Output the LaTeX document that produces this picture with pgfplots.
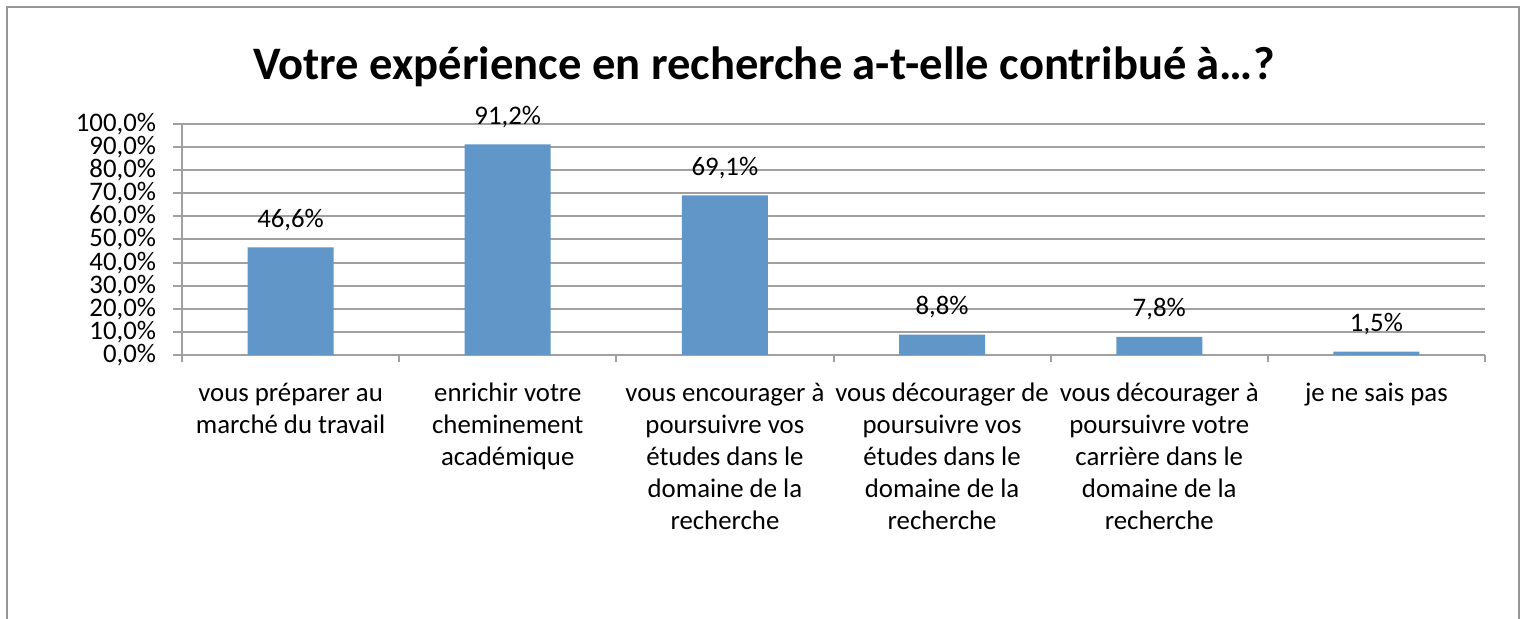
\documentclass[border=0pt]{standalone}
\usepackage{pgfplots}
\pgfplotsset{compat=1.18}
\usepackage{fontspec}
\setmainfont{Carlito}
\definecolor{barblue}{RGB}{97,150,201}
\definecolor{gridgray}{RGB}{160,160,160}
\definecolor{framegray}{RGB}{150,150,150}
\begin{document}
\begin{tikzpicture}
\useasboundingbox (-91pt,-132pt) rectangle (673pt,177.5pt);
\draw[framegray, line width=1.2pt] (-87.5pt,-140pt) -- (-87.5pt,174pt) -- (668.5pt,174pt) -- (668.5pt,-140pt);
\begin{axis}[
  at={(0,0)}, anchor=south west,
  scale only axis, width=651.5pt, height=115.5pt,
  xmin=-0.5, xmax=5.5, ymin=0, ymax=100,
  axis x line*=bottom, axis y line*=left,
  axis line style={-, gridgray, line width=1pt},
  ytick={0,10,...,100},
  ymajorgrids, grid style={gridgray, line width=1pt},
  tick style={gridgray, line width=1pt},
  tick align=outside,
  ytick style={/pgfplots/major tick length=4.5pt},
  xtick={0,...,5},
  xtick style={/pgfplots/major tick length=0pt},
  minor xtick={-0.5,0.5,...,5.5},
  minor tick length=3.5pt,
  /pgf/number format/assume math mode=true,
  yticklabel={\pgfmathprintnumber[fixed,fixed zerofill,precision=1,use comma]{\tick}\%},
  yticklabel style={font=\fontsize{13.4pt}{16pt}\selectfont, anchor=east, inner sep=0pt, xshift=-8.5pt},
  xticklabel style={font=\fontsize{13.4pt}{16pt}\selectfont, anchor=north, inner sep=0pt, align=center, yshift=-7.8pt},
  xticklabels={{\strut vous préparer au\\marché du travail},
               {\strut enrichir votre\\cheminement\\académique},
               {\strut vous encourager à\\poursuivre vos\\études dans le\\domaine de la\\recherche},
               {\strut vous décourager de\\poursuivre vos\\études dans le\\domaine de la\\recherche},
               {\strut vous décourager à\\poursuivre votre\\carrière dans le\\domaine de la\\recherche},
               {\strut je ne sais pas}},
  ybar, bar width=43pt,
  nodes near coords={\pgfmathprintnumber[fixed,fixed zerofill,precision=1,use comma]{\pgfplotspointmeta}\%},
  nodes near coords style={font=\fontsize{13.4pt}{16pt}\selectfont, anchor=base, yshift=10pt, text=black, inner sep=0pt},
]
\addplot[fill=barblue, draw=none] coordinates {(0,46.6) (1,91.2) (2,69.1) (3,8.8) (4,7.8) (5,1.5)};
\end{axis}
\node[font=\fontsize{23.3pt}{28pt}\selectfont\bfseries, anchor=base] at (291pt,137.5pt) {Votre expérience en recherche a-t-elle contribué à…?};
\end{tikzpicture}
\end{document}
